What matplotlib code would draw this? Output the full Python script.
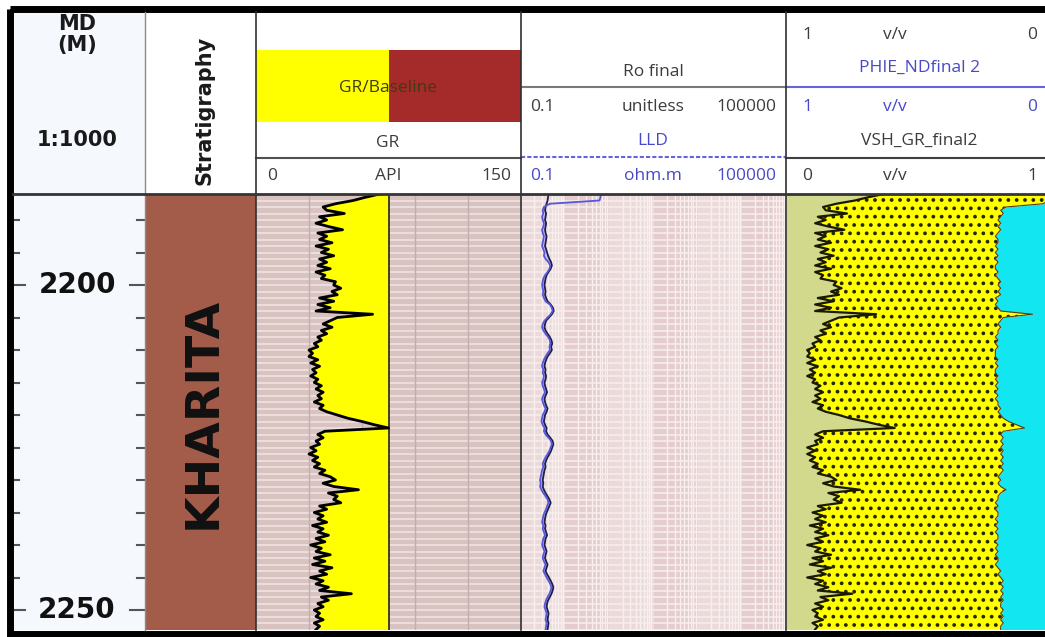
import numpy as np
import matplotlib.pyplot as plt
from matplotlib.patches import Rectangle

plt.rcParams['font.family'] = ['Open Sans', 'DejaVu Sans']
plt.rcParams['hatch.linewidth'] = 1.5
plt.rcParams['hatch.color'] = '#262600'

# log samples every 0.5 m
depth = np.arange(2186.0, 2253.01, 0.5)

gr = [70, 62, 55, 45, 38, 40, 50, 36, 40, 34,
      41, 49, 35, 40, 36, 43, 34, 41, 37, 44,
      36, 40, 35, 42, 34, 39, 37, 45, 44, 48,
      43, 46, 36, 44, 35, 42, 34, 66, 46, 42,
      38, 43, 37, 40, 35, 37, 33, 35, 30, 32,
      30, 35, 31, 36, 32, 34, 31, 35, 33, 37,
      34, 38, 35, 37, 33, 38, 36, 40, 46, 52,
      60, 67, 75, 39, 35, 38, 34, 36, 31, 34,
      30, 35, 32, 36, 33, 39, 36, 42, 45, 38,
      44, 58, 41, 46, 44, 48, 36, 40, 33, 38,
      35, 40, 32, 38, 35, 41, 34, 39, 31, 37,
      34, 42, 33, 39, 32, 43, 36, 40, 31, 38,
      34, 41, 36, 54, 37, 41, 35, 38, 33, 36,
      34, 38, 33, 36, 34]

vsh = [0.37, 0.31, 0.26, 0.19, 0.14, 0.15, 0.23, 0.12, 0.15, 0.11,
       0.16, 0.22, 0.11, 0.15, 0.12, 0.17, 0.11, 0.16, 0.13, 0.18,
       0.12, 0.15, 0.11, 0.17, 0.11, 0.14, 0.13, 0.19, 0.18, 0.21,
       0.17, 0.20, 0.12, 0.18, 0.11, 0.17, 0.11, 0.34, 0.20, 0.17,
       0.14, 0.17, 0.13, 0.15, 0.11, 0.13, 0.10, 0.11, 0.08, 0.09,
       0.08, 0.11, 0.08, 0.12, 0.09, 0.11, 0.08, 0.11, 0.10, 0.13,
       0.11, 0.14, 0.11, 0.13, 0.10, 0.14, 0.12, 0.15, 0.20, 0.24,
       0.30, 0.35, 0.41, 0.14, 0.11, 0.14, 0.11, 0.12, 0.08, 0.11,
       0.08, 0.11, 0.09, 0.12, 0.10, 0.14, 0.12, 0.17, 0.19, 0.14,
       0.18, 0.28, 0.16, 0.20, 0.18, 0.21, 0.12, 0.15, 0.10, 0.14,
       0.11, 0.15, 0.09, 0.14, 0.11, 0.16, 0.11, 0.14, 0.08, 0.13,
       0.11, 0.17, 0.10, 0.14, 0.09, 0.17, 0.12, 0.15, 0.08, 0.14,
       0.11, 0.16, 0.12, 0.25, 0.13, 0.16, 0.11, 0.14, 0.10, 0.12,
       0.11, 0.14, 0.10, 0.12, 0.11]

phie = [0.00, 0.00, 0.01, 0.03, 0.17, 0.19, 0.18, 0.19, 0.20, 0.19,
        0.20, 0.19, 0.20, 0.21, 0.20, 0.20, 0.21, 0.20, 0.21, 0.20,
        0.21, 0.20, 0.21, 0.21, 0.20, 0.21, 0.20, 0.19, 0.20, 0.19,
        0.20, 0.19, 0.21, 0.20, 0.21, 0.20, 0.19, 0.07, 0.18, 0.19,
        0.20, 0.19, 0.20, 0.20, 0.21, 0.20, 0.21, 0.20, 0.21, 0.21,
        0.21, 0.20, 0.21, 0.20, 0.21, 0.21, 0.20, 0.21, 0.20, 0.21,
        0.20, 0.21, 0.20, 0.21, 0.20, 0.20, 0.19, 0.20, 0.19, 0.18,
        0.16, 0.13, 0.10, 0.18, 0.19, 0.18, 0.19, 0.18, 0.19, 0.18,
        0.19, 0.18, 0.19, 0.18, 0.19, 0.18, 0.19, 0.20, 0.19, 0.20,
        0.19, 0.17, 0.19, 0.20, 0.20, 0.21, 0.20, 0.21, 0.20, 0.20,
        0.21, 0.20, 0.21, 0.20, 0.21, 0.20, 0.20, 0.21, 0.20, 0.21,
        0.20, 0.21, 0.20, 0.20, 0.21, 0.20, 0.19, 0.20, 0.19, 0.18,
        0.19, 0.18, 0.19, 0.18, 0.19, 0.18, 0.19, 0.19, 0.18, 0.19,
        0.18, 0.19, 0.18, 0.19, 0.19]

lld = [6.5, 6.3, 6.0, 0.45, 0.33, 0.31, 0.32, 0.30, 0.31, 0.33,
       0.32, 0.30, 0.31, 0.33, 0.32, 0.31, 0.30, 0.32, 0.34, 0.33,
       0.36, 0.42, 0.46, 0.44, 0.40, 0.35, 0.32, 0.31, 0.30, 0.31,
       0.32, 0.31, 0.33, 0.36, 0.45, 0.50, 0.52, 0.47, 0.40, 0.34,
       0.31, 0.30, 0.32, 0.36, 0.41, 0.45, 0.46, 0.44, 0.45, 0.40,
       0.36, 0.33, 0.31, 0.30, 0.32, 0.31, 0.33, 0.32, 0.30, 0.31,
       0.33, 0.35, 0.32, 0.30, 0.31, 0.33, 0.36, 0.34, 0.31, 0.30,
       0.29, 0.31, 0.34, 0.33, 0.36, 0.42, 0.48, 0.50, 0.47, 0.44,
       0.40, 0.36, 0.33, 0.31, 0.32, 0.30, 0.29, 0.28, 0.27, 0.28,
       0.27, 0.29, 0.32, 0.36, 0.40, 0.42, 0.39, 0.37, 0.34, 0.32,
       0.31, 0.30, 0.32, 0.31, 0.33, 0.35, 0.32, 0.31, 0.30, 0.32,
       0.34, 0.32, 0.31, 0.33, 0.36, 0.34, 0.32, 0.35, 0.38, 0.42,
       0.46, 0.49, 0.47, 0.44, 0.40, 0.37, 0.35, 0.34, 0.36, 0.38,
       0.37, 0.36, 0.38, 0.37, 0.36]

ro = [0.42, 0.41, 0.40, 0.38, 0.36, 0.35, 0.37, 0.36, 0.35, 0.37,
      0.36, 0.35, 0.36, 0.38, 0.37, 0.36, 0.35, 0.37, 0.39, 0.41,
      0.44, 0.48, 0.50, 0.47, 0.42, 0.38, 0.36, 0.35, 0.34, 0.35,
      0.36, 0.35, 0.37, 0.40, 0.47, 0.53, 0.55, 0.50, 0.43, 0.37,
      0.35, 0.34, 0.36, 0.40, 0.45, 0.49, 0.51, 0.48, 0.50, 0.45,
      0.40, 0.37, 0.35, 0.34, 0.36, 0.35, 0.37, 0.36, 0.34, 0.35,
      0.37, 0.39, 0.36, 0.34, 0.35, 0.37, 0.40, 0.38, 0.35, 0.34,
      0.33, 0.35, 0.38, 0.37, 0.40, 0.46, 0.52, 0.54, 0.51, 0.48,
      0.44, 0.40, 0.37, 0.35, 0.36, 0.34, 0.33, 0.32, 0.31, 0.32,
      0.31, 0.33, 0.36, 0.40, 0.44, 0.47, 0.44, 0.41, 0.38, 0.36,
      0.35, 0.34, 0.36, 0.35, 0.37, 0.39, 0.36, 0.35, 0.34, 0.36,
      0.38, 0.36, 0.35, 0.37, 0.40, 0.38, 0.36, 0.39, 0.43, 0.47,
      0.51, 0.54, 0.52, 0.49, 0.45, 0.41, 0.39, 0.38, 0.40, 0.42,
      0.41, 0.40, 0.42, 0.41, 0.40]

gr_baseline = 75
formations = ['KHARITA']
form_top = [2150.0]
form_base = [2300.0]
depth_labels = [2200, 2250]

W, H = 1045, 637
TOP, BOT = 195, 630
d_top = 2200 - (285 - TOP) / 6.5
d_bot = 2250 + (BOT - 610) / 6.5

fig = plt.figure(figsize=(W / 100, H / 100), dpi=100)


def track(x0, x1, log=False):
    ax = fig.add_axes([x0 / W, 1 - BOT / H, (x1 - x0) / W, (BOT - TOP) / H])
    if log:
        ax.set_xscale('log')
    ax.set_ylim(d_bot, d_top)
    ax.set_xticks([])
    ax.set_xticks([], minor=True)
    ax.set_yticks([])
    ax.tick_params(which='both', bottom=False, left=False,
                   labelbottom=False, labelleft=False)
    for s in ax.spines.values():
        s.set_visible(False)
    return ax


metres = np.arange(2187, 2254)

# depth column
ax_md = track(13, 145)
ax_md.set_xlim(0, 1)
ax_md.set_facecolor('#F5F8FD')
for t in np.arange(2190, 2255, 5):
    big = t % 50 == 0
    ax_md.plot([0, 0.09 if big else 0.045], [t, t], color='#555555', lw=1.5)
    ax_md.plot([0.89 if big else 0.94, 1], [t, t], color='#555555', lw=1.5)
for t in depth_labels:
    ax_md.text(0.485, t, str(t), ha='center', va='center', fontsize=20,
               fontweight='bold', family='DejaVu Sans', color='#111111')

# stratigraphy column
ax_st = track(145, 256)
ax_st.set_xlim(0, 1)
for name, t0, t1 in zip(formations, form_top, form_base):
    ax_st.axhspan(t0, t1, color='#A35B4A', lw=0)
    mid = (max(t0, d_top) + min(t1, d_bot)) / 2
    ax_st.text(0.52, mid, name, rotation=90, ha='center', va='center',
               fontsize=34, fontweight='bold', family='DejaVu Sans', color='#111111')

# gamma ray track
gr_a = np.array(gr)
ax_gr = track(256, 521)
ax_gr.set_xlim(0, 150)
ax_gr.set_facecolor('#D8C3C1')
ax_gr.hlines(metres, 0, 150, color='#ECDEDC', lw=1.4, zorder=0.5)
ax_gr.vlines([30, 60, 90, 120], d_bot, d_top, color='#C4ADAE', lw=1, zorder=0.6)
ax_gr.fill_betweenx(depth, gr_a, gr_baseline, where=gr_a <= gr_baseline,
                    color='#FFFF00', interpolate=True, lw=0, zorder=1)
ax_gr.fill_betweenx(depth, gr_a, gr_baseline, where=gr_a > gr_baseline,
                    color='#A52A2A', interpolate=True, lw=0, zorder=1)
ax_gr.axvline(gr_baseline, color='#222222', lw=1.2, zorder=2)
ax_gr.plot(gr_a, depth, color='black', lw=2, zorder=3)

# resistivity track
lld_a, ro_a = np.array(lld), np.array(ro)
ax_rs = track(521, 786, log=True)
ax_rs.set_xlim(0.1, 1e5)
decades = 10.0 ** np.arange(-1, 5)
for i, dec in enumerate(decades):
    ax_rs.axvspan(dec, dec * 10, color=['#ECDADA', '#E5CCCD'][i % 2], lw=0, zorder=0.2)
minor = np.concatenate([dec * np.arange(2, 10) for dec in decades])
ax_rs.vlines(minor, d_bot, d_top, color='#F8EFEF', lw=1.0, zorder=0.5)
ax_rs.hlines(metres, 0.1, 1e5, color='#F7EEEE', lw=1.1, zorder=0.5)
ax_rs.fill_betweenx(depth, lld_a, ro_a, where=lld_a < 1, color='#C9C2F2',
                    lw=0, zorder=1)
ax_rs.plot(ro_a, depth, color='#1E1E4E', lw=1.3, zorder=3)
ax_rs.plot(lld_a, depth, color='#5656D6', lw=1.3, zorder=3)

# shale / sand / porosity track
vsh_a = np.array(vsh)
por_x = 1 - np.array(phie)
ax_lt = track(786, 1051)
ax_lt.set_xlim(0, 1)
ax_lt.fill_betweenx(depth, 0, vsh_a, color='#D2D88C', lw=0, zorder=1)
ax_lt.fill_betweenx(depth, vsh_a, por_x, facecolor='#FFFF00', edgecolor='#262600',
                    hatch='..', lw=0, zorder=1)
ax_lt.fill_betweenx(depth, por_x, 1, color='#12E6F0', lw=0, zorder=1)
ax_lt.plot(por_x, depth, color='#5A3A10', lw=0.8, zorder=3)
ax_lt.plot(vsh_a, depth, color='#1A1A00', lw=1.6, zorder=3)

# header panel, drawn in pixel units
hd = fig.add_axes([0, 0, 1, 1], zorder=5)
hd.set_xlim(0, W)
hd.set_ylim(H, 0)
hd.axis('off')

hd.add_patch(Rectangle((13, 12), 132, 182, color='#F5F8FD', lw=0))
hd.add_patch(Rectangle((256, 50), 133, 72, color='#FFFF00', lw=0))
hd.add_patch(Rectangle((389, 50), 132, 72, color='#A52A2A', lw=0))

txt = dict(ha='center', va='center', fontsize=12.5, color='#3C3C3C')
blue = '#4848C8'
bold = dict(ha='center', va='center', fontweight='bold', family='DejaVu Sans', color='#1A1A1A')

hd.text(77, 24, 'MD', fontsize=15, **bold)
hd.text(77, 45, '(M)', fontsize=15, **bold)
hd.text(77, 140, '1:1000', fontsize=15, **bold)
hd.text(205, 110, 'Stratigraphy', rotation=90, fontsize=15, **bold)

hd.text(388, 88, 'GR/Baseline', **{**txt, 'color': '#3D3D10'})
hd.text(388, 143, 'GR', **txt)
hd.text(267, 176, '0', **{**txt, 'ha': 'left'})
hd.text(388, 176, 'API', **txt)
hd.text(511, 176, '150', **{**txt, 'ha': 'right'})
hd.plot([256, 521], [158, 158], color='#505050', lw=1.5)

hd.text(653, 72, 'Ro final', **txt)
hd.plot([521, 786], [87, 87], color='#7A7A7A', lw=1.5)
hd.text(530, 107, '0.1', **{**txt, 'ha': 'left'})
hd.text(653, 107, 'unitless', **txt)
hd.text(776, 107, '100000', **{**txt, 'ha': 'right'})
hd.text(653, 141, 'LLD', **{**txt, 'color': blue})
hd.plot([521, 786], [157, 157], color='#6464D8', lw=1.5, ls=(0, (2, 1)))
hd.text(530, 176, '0.1', **{**txt, 'ha': 'left', 'color': blue})
hd.text(653, 176, 'ohm.m', **{**txt, 'color': blue})
hd.text(776, 176, '100000', **{**txt, 'ha': 'right', 'color': blue})

hd.text(802, 35, '1', **{**txt, 'ha': 'left'})
hd.text(895, 35, 'v/v', **txt)
hd.text(1037, 35, '0', **{**txt, 'ha': 'right'})
hd.text(920, 68, 'PHIE_NDfinal 2', **{**txt, 'color': blue})
hd.plot([786, W], [87, 87], color='#6464D8', lw=1.5)
hd.text(802, 107, '1', **{**txt, 'ha': 'left', 'color': blue})
hd.text(895, 107, 'v/v', **{**txt, 'color': blue})
hd.text(1037, 107, '0', **{**txt, 'ha': 'right', 'color': blue})
hd.text(919, 141, 'VSH_GR_final2', **txt)
hd.plot([786, W], [158, 158], color='#404040', lw=1.5)
hd.text(802, 176, '0', **{**txt, 'ha': 'left'})
hd.text(895, 176, 'v/v', **txt)
hd.text(1037, 176, '1', **{**txt, 'ha': 'right'})

# column separators, header base line and outer frame
hd.plot([145, 145], [12, 630], color='#8A8A8A', lw=1)
for x in (256, 521, 786):
    hd.plot([x, x], [12, 630], color='#303030', lw=1.2)
hd.plot([13, W], [194, 194], color='#353535', lw=2)
hd.add_patch(Rectangle((10, 8.5), 1050, 625, fill=False, edgecolor='black', lw=5))

fig.savefig('out.png', dpi=100)
